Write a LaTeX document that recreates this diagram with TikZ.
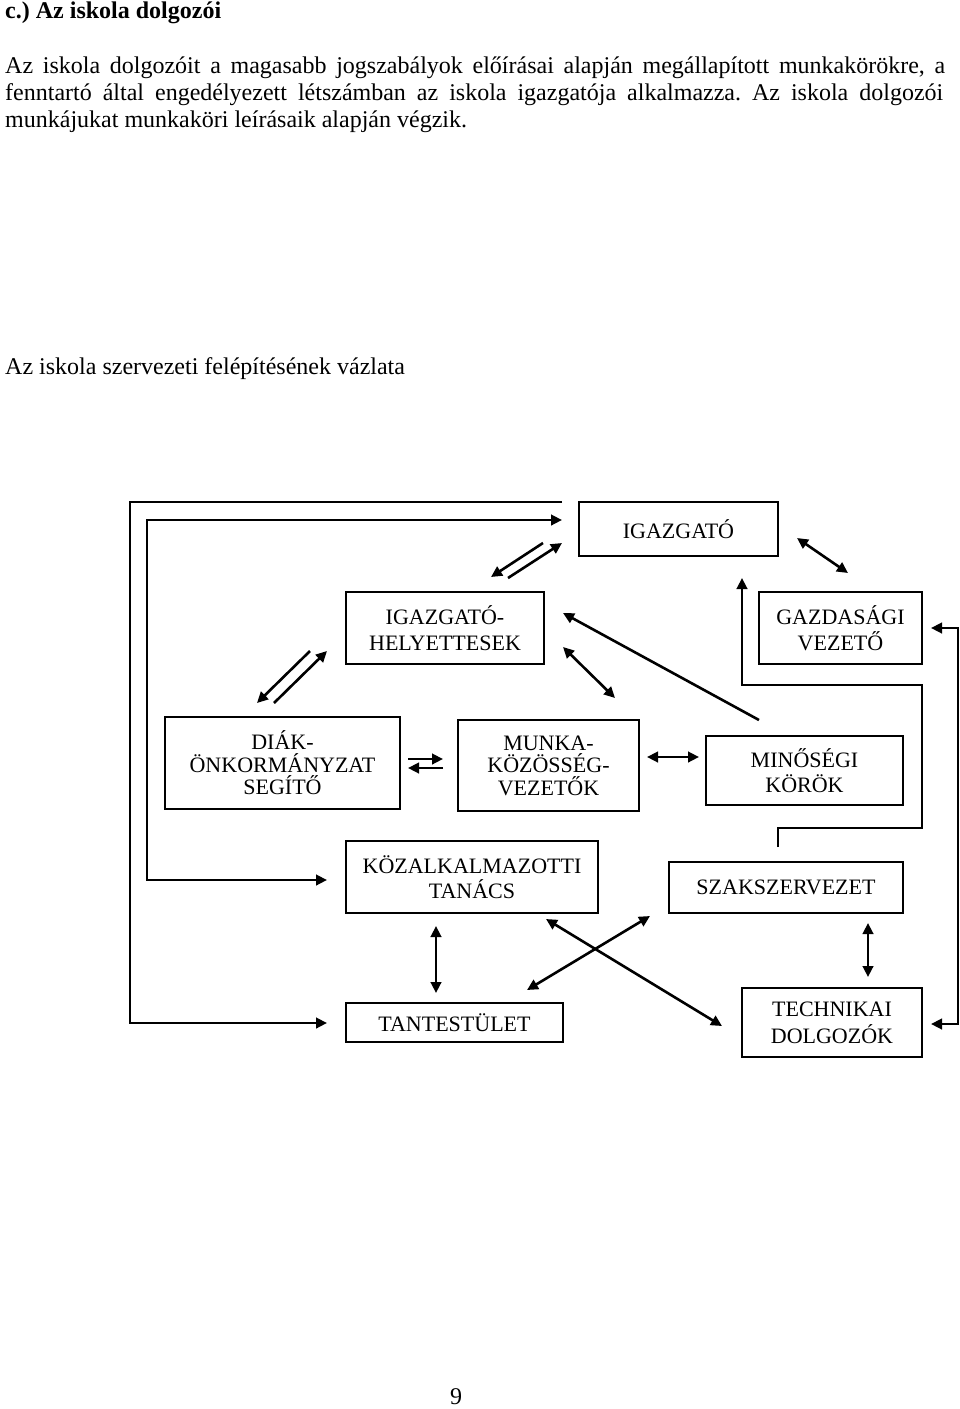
\documentclass[tikz,border=0pt]{standalone}
\usepackage{fontspec}
\setmainfont{Liberation Serif}
\usetikzlibrary{arrows.meta}
\frenchspacing
\begin{document}
\begin{tikzpicture}[x=1pt,y=-1pt,
  box/.style={draw, line width=2.4pt, align=center, inner sep=0pt,
    font=\fontsize{22}{25.5}\selectfont},
  tightbox/.style={box, font=\fontsize{22}{22.5}\selectfont},
  conn/.style={line width=2.6pt},
  >={Triangle[length=11pt,width=10.5pt]},
  txt/.style={anchor=west, inner sep=0pt, font=\fontsize{24}{27}\selectfont}]
\fill[white] (0,0) rectangle (960,1409);
\useasboundingbox (0,0) rectangle (960,1409);

% texts
\node[txt, font=\fontsize{24}{27}\selectfont\bfseries] (title) at (5,13) {c.) Az iskola dolgozói};
\node[txt] (l1) at (5,68) {\makebox[940pt][s]{Az iskola dolgozóit a magasabb jogszabályok előírásai alapján megállapított munkakörökre, a}};
\node[txt] (l2) at (5,95) {\makebox[938pt][s]{fenntartó által engedélyezett létszámban az iskola igazgatója alkalmazza. Az iskola dolgozói}};
\node[txt] (l3) at (5,122) {munkájukat munkaköri leírásaik alapján végzik.};
\node[txt] (cap) at (5,369) {Az iskola szervezeti felépítésének vázlata};
\node[inner sep=0pt, font=\fontsize{24}{27}\selectfont] (page) at (456,1397) {9};

% boxes
\node[box, minimum width=199pt, minimum height=54pt] (igaz) at (678.5,529) {IGAZGATÓ};
\node[box, minimum width=198pt, minimum height=72pt] (hely) at (445,628) {IGAZGATÓ-\\HELYETTESEK};
\node[box, minimum width=163pt, minimum height=72pt] (gazd) at (840.5,628) {GAZDASÁGI\\VEZETŐ};
\node[tightbox, minimum width=235pt, minimum height=92pt] (diak) at (282.5,763) {DIÁK-\\ÖNKORMÁNYZAT\\SEGÍTŐ};
\node[tightbox, minimum width=181pt, minimum height=91pt] (munka) at (548.5,765.5) {MUNKA-\\KÖZÖSSÉG-\\VEZETŐK};
\node[box, minimum width=197pt, minimum height=69pt] (minos) at (804.5,770.5) {MINŐSÉGI\\KÖRÖK};
\node[box, minimum width=252pt, minimum height=72pt] (kozalk) at (472,877) {KÖZALKALMAZOTTI\\TANÁCS};
\node[box, minimum width=234pt, minimum height=51pt] (szak) at (786,887.5) {SZAKSZERVEZET};
\node[box, minimum width=217pt, minimum height=39pt] (tant) at (454.5,1022.5) {TANTESTÜLET};
\node[box, minimum width=180pt, minimum height=69pt, font=\fontsize{22}{27}\selectfont] (tech) at (832,1022.5) {TECHNIKAI\\DOLGOZÓK};

% connector end points
\coordinate (o1) at (562,502);
\coordinate (o2) at (327,1023);
\coordinate (i1) at (562,520);
\coordinate (i2) at (327,880);
\coordinate (a1s) at (543,543); \coordinate (a1e) at (491,577);
\coordinate (a2s) at (508,578); \coordinate (a2e) at (562,543);
\coordinate (c1s) at (310,651); \coordinate (c1e) at (257,703);
\coordinate (c2s) at (274,703); \coordinate (c2e) at (327,651);
\coordinate (g1) at (797,538); \coordinate (g2) at (848,573);
\coordinate (s1) at (778,847); \coordinate (s2) at (742,578);
\coordinate (r1) at (931,628); \coordinate (r2) at (931,1024);
\coordinate (d1s) at (408,759); \coordinate (d1e) at (443,759);
\coordinate (d2s) at (443,768); \coordinate (d2e) at (408,768);
\coordinate (m1) at (647,757); \coordinate (m2) at (699,757);
\coordinate (q1) at (759,720); \coordinate (q2) at (563,613);
\coordinate (h1) at (563,647); \coordinate (h2) at (615,698);
\coordinate (k1) at (436,926); \coordinate (k2) at (436,993);
\coordinate (x1) at (546,919); \coordinate (x2) at (722,1026);
\coordinate (y1) at (650,916); \coordinate (y2) at (527,990);
\coordinate (t1) at (868,923); \coordinate (t2) at (868,977);

% connectors
\draw[conn, ->] (o1) -- (130,502) -- (130,1023) -- (o2);
\draw[conn, <->] (i1) -- (147,520) -- (147,880) -- (i2);
\draw[conn, ->] (a1s) -- (a1e);
\draw[conn, ->] (a2s) -- (a2e);
\draw[conn, ->] (c1s) -- (c1e);
\draw[conn, ->] (c2s) -- (c2e);
\draw[conn, <->] (g1) -- (g2);
\draw[conn, ->] (s1) -- (778,828) -- (922,828) -- (922,685) -- (742,685) -- (s2);
\draw[conn, <->] (r1) -- (958,628) -- (958,1024) -- (r2);
\draw[conn, ->] (d1s) -- (d1e);
\draw[conn, ->] (d2s) -- (d2e);
\draw[conn, <->] (m1) -- (m2);
\draw[conn, ->] (q1) -- (q2);
\draw[conn, <->] (h1) -- (h2);
\draw[conn, <->] (k1) -- (k2);
\draw[conn, <->] (x1) -- (x2);
\draw[conn, <->] (y1) -- (y2);
\draw[conn, <->] (t1) -- (t2);
\end{tikzpicture}
\end{document}
